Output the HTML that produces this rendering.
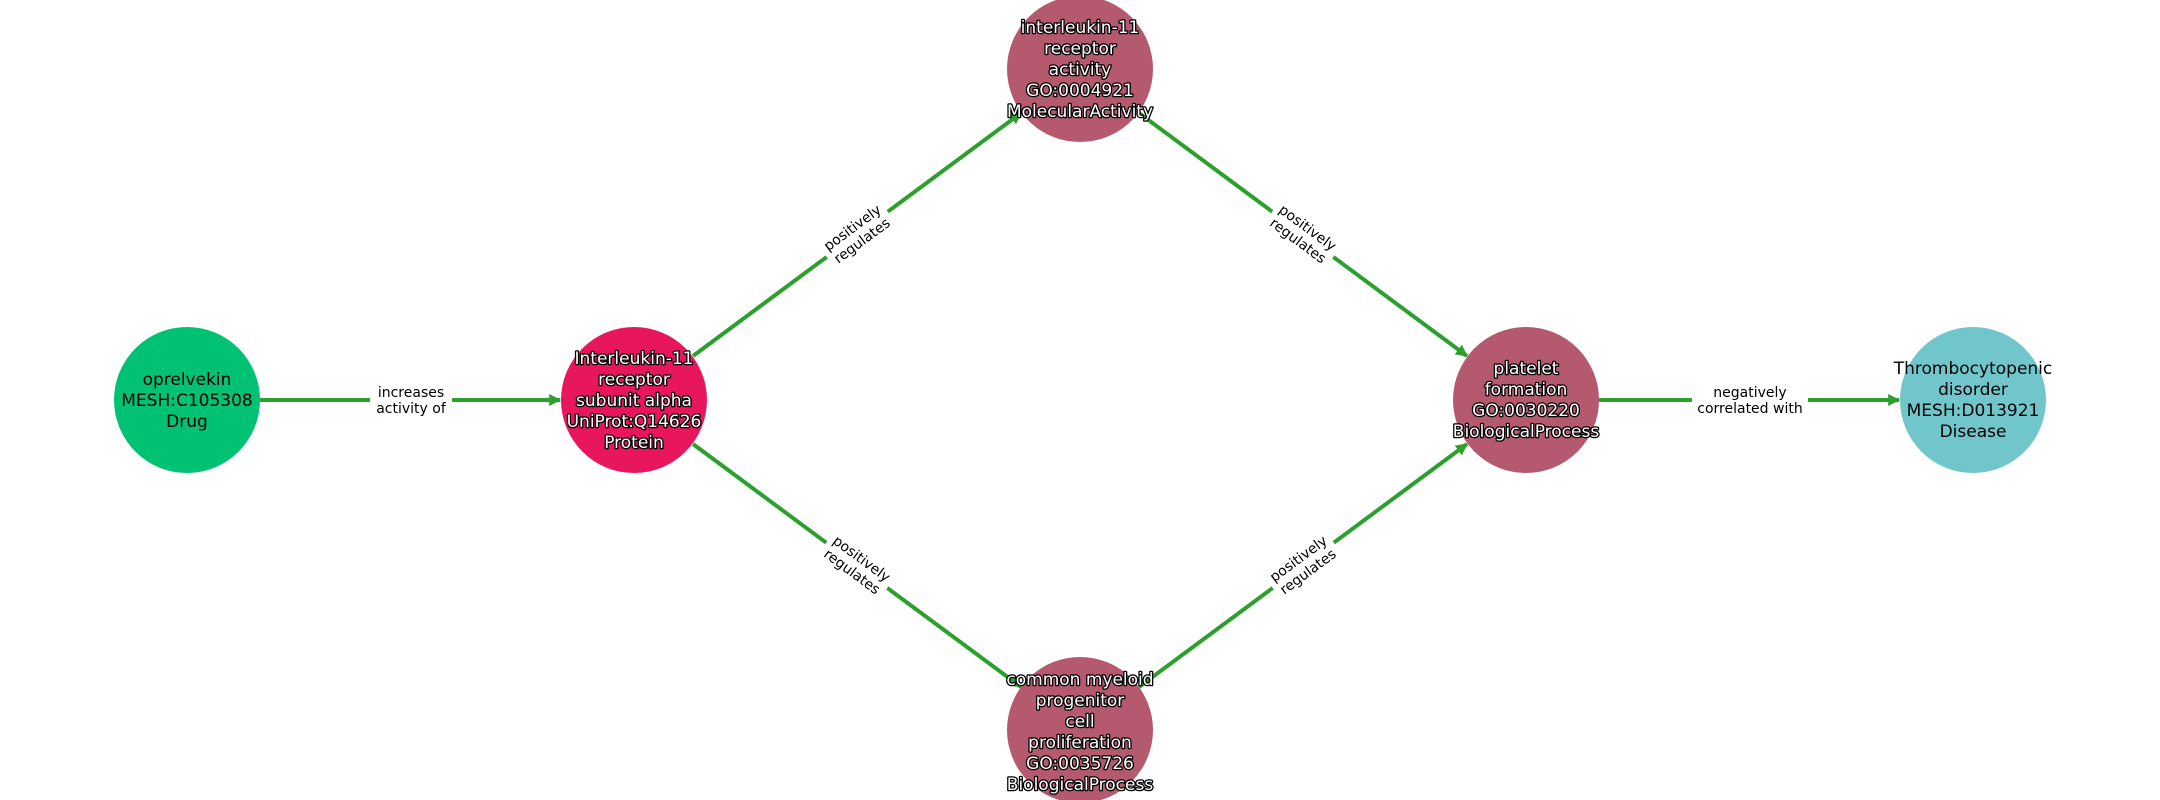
<!DOCTYPE html>
<html><head><style>
html,body{margin:0;padding:0;background:#fff;}
svg{display:block;}
text{font-family:"DejaVu Sans","Liberation Sans",sans-serif;}
.n{font-size:17px;text-anchor:middle;fill:#000;}
.h{fill:#fff;stroke:#000;stroke-width:2.6px;paint-order:stroke;stroke-linejoin:round;}
.e{font-size:14px;text-anchor:middle;fill:#000;}
</style></head><body>
<svg width="2160" height="800" viewBox="0 0 2160 800">
<defs>
<marker id="a" viewBox="0 0 10 10" refX="9" refY="5" markerWidth="3" markerHeight="3" orient="auto">
<path d="M0,0 L10,5 L0,10 z" fill="#2ca02c"/></marker>
</defs>
<g stroke="#2ca02c" stroke-width="4" fill="none" marker-end="url(#a)">
<line x1="260" y1="400" x2="560" y2="400"/>
<line x1="1599" y1="400" x2="1899" y2="400"/>
<line x1="693" y1="356" x2="1021" y2="113"/>
<line x1="1139" y1="113" x2="1467" y2="356"/>
<line x1="693" y1="444" x2="1021" y2="687"/>
<line x1="1139" y1="687" x2="1467" y2="444"/>
</g>
<g>
<rect x="370" y="382" width="82" height="36" fill="#fff"/>
<text class="e" x="411" y="397">increases</text>
<text class="e" x="411" y="413">activity of</text>
<rect x="1692" y="382" width="116" height="36" fill="#fff"/>
<text class="e" x="1750" y="397">negatively</text>
<text class="e" x="1750" y="413">correlated with</text>
<g transform="translate(857,234) rotate(-36.5)"><rect x="-38" y="-18" width="76" height="36" fill="#fff"/><text class="e" y="-3">positively</text><text class="e" y="13">regulates</text></g>
<g transform="translate(1303,234) rotate(36.5)"><rect x="-38" y="-18" width="76" height="36" fill="#fff"/><text class="e" y="-3">positively</text><text class="e" y="13">regulates</text></g>
<g transform="translate(857,565) rotate(36.5)"><rect x="-38" y="-18" width="76" height="36" fill="#fff"/><text class="e" y="-3">positively</text><text class="e" y="13">regulates</text></g>
<g transform="translate(1303,565) rotate(-36.5)"><rect x="-38" y="-18" width="76" height="36" fill="#fff"/><text class="e" y="-3">positively</text><text class="e" y="13">regulates</text></g>
</g>
<circle cx="187" cy="400" r="73" fill="#00c272"/>
<circle cx="634" cy="400" r="73" fill="#e8175d"/>
<circle cx="1080" cy="69" r="73" fill="#b5596f"/>
<circle cx="1526" cy="400" r="73" fill="#b5596f"/>
<circle cx="1080" cy="730" r="73" fill="#b5596f"/>
<circle cx="1973" cy="400" r="73" fill="#70c6ca"/>
<text class="n" x="187" y="385">oprelvekin</text>
<text class="n" x="187" y="406">MESH:C105308</text>
<text class="n" x="187" y="427">Drug</text>
<g class="n h">
<text x="634" y="364">Interleukin-11</text>
<text x="634" y="385">receptor</text>
<text x="634" y="406">subunit alpha</text>
<text x="634" y="427">UniProt:Q14626</text>
<text x="634" y="448">Protein</text>
<text x="1080" y="33">interleukin-11</text>
<text x="1080" y="54">receptor</text>
<text x="1080" y="75">activity</text>
<text x="1080" y="96">GO:0004921</text>
<text x="1080" y="117">MolecularActivity</text>
<text x="1526" y="374">platelet</text>
<text x="1526" y="395">formation</text>
<text x="1526" y="416">GO:0030220</text>
<text x="1526" y="437">BiologicalProcess</text>
<text x="1080" y="685">common myeloid</text>
<text x="1080" y="706">progenitor</text>
<text x="1080" y="727">cell</text>
<text x="1080" y="748">proliferation</text>
<text x="1080" y="769">GO:0035726</text>
<text x="1080" y="790">BiologicalProcess</text>
</g>
<text class="n" x="1973" y="374">Thrombocytopenic</text>
<text class="n" x="1973" y="395">disorder</text>
<text class="n" x="1973" y="416">MESH:D013921</text>
<text class="n" x="1973" y="437">Disease</text>
</svg>
</body></html>
